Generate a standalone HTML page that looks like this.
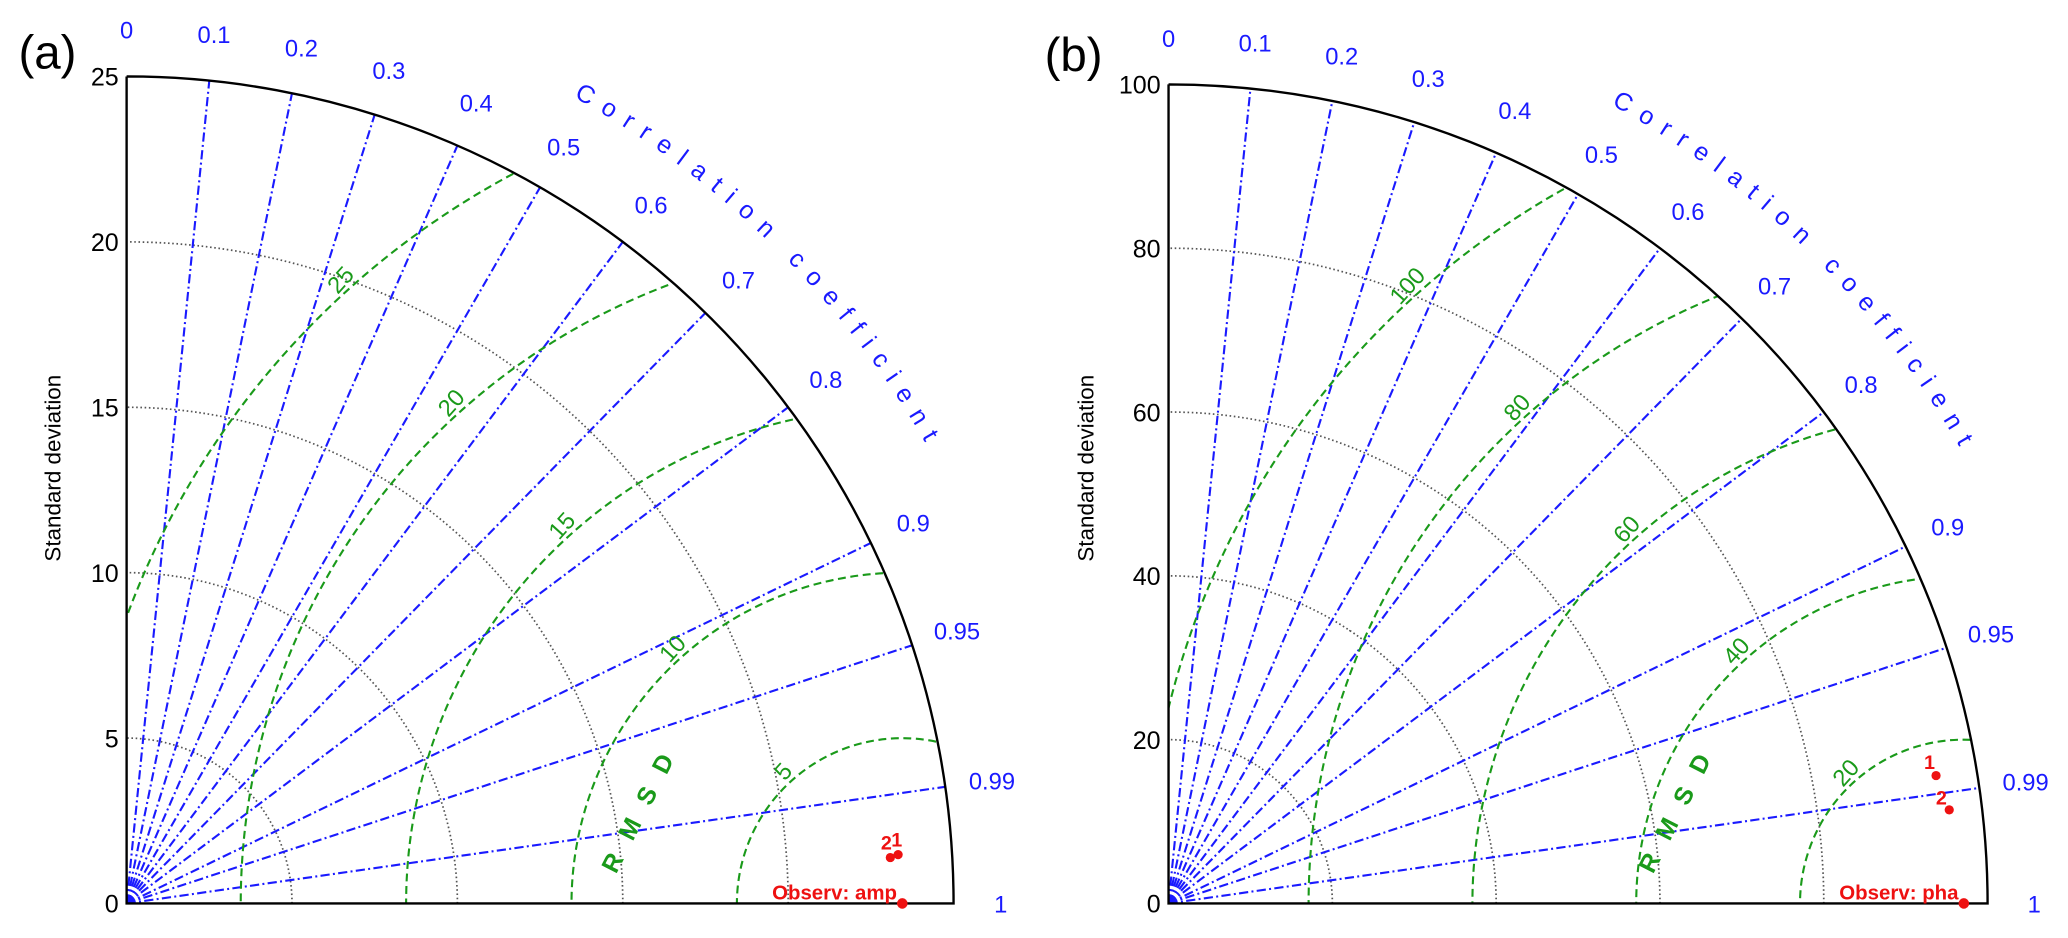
<!DOCTYPE html>
<html><head><meta charset="utf-8"><style>
html,body{margin:0;padding:0;background:#fff;}
svg{display:block;font-family:"Liberation Sans",sans-serif;}
</style></head><body>
<svg id="chart" width="2068" height="938" viewBox="0 0 2068 938" xmlns="http://www.w3.org/2000/svg">
<g id="root" transform="scale(1.3189)">
<text x="14" y="52" font-size="36" fill="#000">(a)</text>
<text x="792" y="54" font-size="36" fill="#000">(b)</text>
</g>
</svg>
<script>
const corrTicks = [0,0.1,0.2,0.3,0.4,0.5,0.6,0.7,0.8,0.9,0.95,0.99,1];
const stdTicksA = [0,5,10,15,20,25];
const rmsdTicksA = [5,10,15,20,25];
const obsStdA = 23.45;
const modelNamesA = ['1','2'];
const modelStdA = [23.37,23.13];
const modelCorrA = [0.998,0.9982];
const stdTicksB = [0,20,40,60,80,100];
const rmsdTicksB = [20,40,60,80,100];
const obsStdB = 97.1;
const modelNamesB = ['1','2'];
const modelStdB = [95.0,96.0];
const modelCorrB = [0.9864,0.9929];

const NS='http://www.w3.org/2000/svg';
const root=document.getElementById('root');
function mk(tag,attrs,parent){const e=document.createElementNS(NS,tag);for(const k in attrs)e.setAttribute(k,attrs[k]);(parent||root).appendChild(e);return e;}

function panel(id,ox,oy,R,maxStd,stdTicks,rmsdTicks,obsStd,names,mStd,mCorr,obsLabel,yTitleX,lblOff){
  const s=R/maxStd;
  const px=(r,c)=>ox+r*s*c;
  const py=(r,c)=>oy-r*s*Math.sqrt(Math.max(0,1-c*c));
  const g=mk('g',{});
  
  
  const cp=mk('clipPath',{id:'clip'+id},g);
  mk('path',{d:`M${ox},${oy} L${ox+R},${oy} A${R},${R} 0 0 0 ${ox},${oy-R} Z`},cp);
  stdTicks.forEach(t=>{
    if(t<=0||t>=maxStd)return;
    const r=t*s;
    const a=mk('path',{d:`M${ox+r},${oy} A${r},${r} 0 0 0 ${ox},${oy-r}`,fill:'none',stroke:'#555','stroke-width':1.3,'stroke-dasharray':'1.2 2'},g);
    
    
  });
  corrTicks.forEach(c=>{
    if(c>0&&c<1){
      const l=mk('line',{x1:ox,y1:oy,x2:px(maxStd,c),y2:py(maxStd,c),stroke:'#1a1aff','stroke-width':1.6,'stroke-dasharray':'7 2.5 1.5 2.5'},g);
      
      
    }
    const lr=maxStd*1.057;
    const t=mk('text',{x:px(lr,c),y:py(lr,c)+7,'font-size':18,fill:'#1a1aff','text-anchor':'middle'},g);
    t.textContent=String(c);
    
    
  });
  const rg=mk('g',{'clip-path':`url(#clip${id})`},g);
  const ox2=ox+obsStd*s;
  rmsdTicks.forEach(t=>{
    const r=t*s;
    const a=mk('path',{d:`M${ox2+r},${oy} A${r},${r} 0 0 0 ${ox2-r},${oy}`,fill:'none',stroke:'#1a9a1a','stroke-width':1.6,'stroke-dasharray':'6 3.5'},rg);
    
    
    const ang=132*Math.PI/180;
    const lx=ox2+(r+8)*Math.cos(ang), ly=oy-(r+8)*Math.sin(ang);
    const tx=mk('text',{x:lx,y:ly,'font-size':18,fill:'#1a9a1a','text-anchor':'middle','dominant-baseline':'middle',transform:`rotate(-48 ${lx} ${ly})`},g);
    tx.textContent=String(t);
    
    
  });
  const rx=ox+392*R/627, ry=oy-74;
  const rm=mk('text',{x:rx,y:ry,'font-size':19,'font-weight':'bold',fill:'#1a9a1a','text-anchor':'middle','dominant-baseline':'middle','letter-spacing':'14',transform:`rotate(-63 ${rx} ${ry})`},g);
  rm.textContent='RMSD';
  
  
  const ax=mk('path',{d:`M${ox},${oy-R} L${ox},${oy} L${ox+R},${oy} A${R},${R} 0 0 0 ${ox},${oy-R}`,fill:'none',stroke:'#000','stroke-width':1.8},g);
  
  
  stdTicks.forEach(t=>{
    const tx=mk('text',{x:ox-6,y:oy-t*s+7,'font-size':19,fill:'#000','text-anchor':'end'},g);
    tx.textContent=String(t);
    
    
  });
  const yt=mk('text',{x:yTitleX,y:oy-330,'font-size':17,fill:'#000','text-anchor':'middle',transform:`rotate(-90 ${yTitleX} ${oy-330})`},g);
  yt.textContent='Standard deviation';
  
  
  const cr=R*1.115, a1=61*Math.PI/180, a2=30*Math.PI/180;
  mk('path',{id:'cpath'+id,d:`M${ox+cr*Math.cos(a1)},${oy-cr*Math.sin(a1)} A${cr},${cr} 0 0 1 ${ox+cr*Math.cos(a2)},${oy-cr*Math.sin(a2)}`,fill:'none'},g);
  const ct=mk('text',{'font-size':19,fill:'#1a1aff'},g);
  
  
  const tp=mk('textPath',{href:'#cpath'+id,textLength:cr*31*Math.PI/180,lengthAdjust:'spacing'},ct);
  tp.textContent='Correlation coefficient';
  const od=mk('circle',{cx:ox2,cy:oy,r:4,fill:'#ee1111'},g);
  
  
  const ol=mk('text',{x:ox2-4,y:oy-3,'font-size':15.5,'font-weight':'bold',fill:'#ee1111','text-anchor':'end'},g);
  ol.textContent=obsLabel;
  
  
  names.forEach((n,i)=>{
    const x=px(mStd[i],mCorr[i]), y=py(mStd[i],mCorr[i]);
    const d=mk('circle',{cx:x,cy:y,r:3.5,fill:'#ee1111'},g);
    
    
    const t=mk('text',{x:x+lblOff[i][0],y:y+lblOff[i][1],'font-size':15,'font-weight':'bold',fill:'#ee1111','text-anchor':'middle'},g);
    t.textContent=n;
    
    
  });
}
panel('a',96,685,627,25,stdTicksA,rmsdTicksA,obsStdA,modelNamesA,modelStdA,modelCorrA,'Observ: amp',46,[[-1,-6],[-3,-6]]);
panel('b',886,685,621,100,stdTicksB,rmsdTicksB,obsStdB,modelNamesB,modelStdB,modelCorrB,'Observ: pha',829,[[-5,-5],[-6,-4]]);
</script>
</body></html>
